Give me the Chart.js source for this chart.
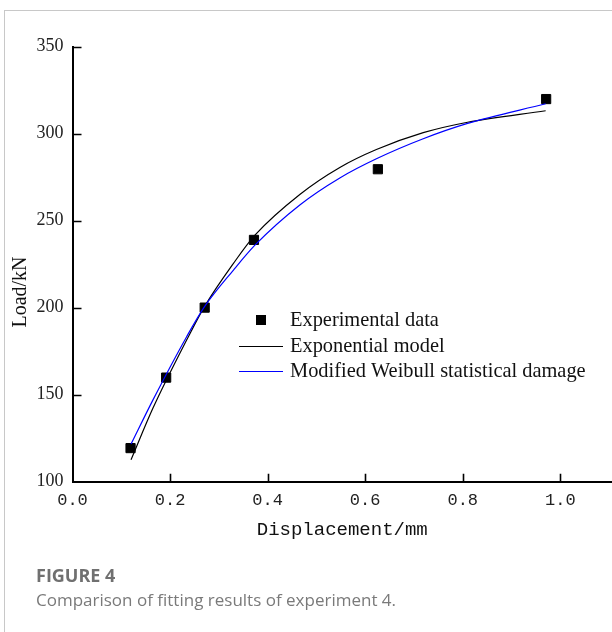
<!DOCTYPE html>
<html>
<head>
<meta charset="utf-8">
<script src="https://cdn.jsdelivr.net/npm/chart.js@4/dist/chart.umd.min.js"></script>
<style>
  html, body { margin: 0; padding: 0; background: #fff; }
  #frame { position: absolute; left: 4px; top: 10px; width: 620px; height: 640px;
           border-top: 1px solid #c8c8c8; border-left: 1px solid #c8c8c8; }
  #wrap { position: absolute; left: 0; top: 0; width: 612px; height: 632px; }
  .fig { position: absolute; left: 36px; font-family: "Open Sans", sans-serif; color: #707070; white-space: nowrap; }
  #figNo { top: 566px; font-size: 18px; font-weight: bold; line-height: 18px; }
  #figCap { top: 591px; font-size: 17px; line-height: 17px; color: #7a7a7a; }
</style>
</head>
<body>
<div id="frame"></div>
<div id="wrap"><canvas id="chart"></canvas></div>
<div class="fig" id="figNo">FIGURE 4</div>
<div class="fig" id="figCap">Comparison of fitting results of experiment 4.</div>
<script>
// experimental points (displacement mm, load kN)
const expDisp = [0.119, 0.192, 0.271, 0.372, 0.626, 0.971];
const expLoad = [119.3, 159.8, 200.0, 238.9, 279.5, 319.8];

// curves
const curveDisp = [0.12, 0.165, 0.234, 0.27, 0.33, 0.374, 0.466, 0.548, 0.623, 0.719, 0.81, 0.97];
const expoLoad  = [112.6, 142.3, 181.4, 200.3, 225.4, 241.6, 265.0, 280.5, 290.8, 300.5, 306.5, 313.1];
const weibLoad  = [121.6, 147.0, 183.3, 200.3, 221.6, 235.9, 259.0, 274.5, 285.5, 297.0, 305.8, 317.1];

const xTicks = [0, 0.2, 0.4, 0.6, 0.8, 1.0];
const yTicks = [100, 150, 200, 250, 300, 350];

const labels = ['Experimental data', 'Exponential model', 'Modified Weibull statistical damage'];

const toXY = (xs, ys) => xs.map((x, i) => ({ x, y: ys[i] }));

const inwardTicks = {
  id: 'inwardTicks',
  afterDraw(chart) {
    const { ctx, chartArea: a, scales: { x, y } } = chart;
    ctx.save();
    ctx.strokeStyle = '#000';
    ctx.lineWidth = 1.6;
    ctx.beginPath();
    xTicks.forEach(v => {
      if (v === 0) return;
      const px = Math.round(x.getPixelForValue(v)) + 0.5;
      ctx.moveTo(px, a.bottom); ctx.lineTo(px, a.bottom - 8);
    });
    yTicks.forEach(v => {
      if (v === 100) return;
      const py = Math.round(y.getPixelForValue(v)) + 0.5;
      ctx.moveTo(a.left, py); ctx.lineTo(a.left + 9, py);
    });
    ctx.stroke();

    // y axis title
    ctx.fillStyle = '#111';
    ctx.font = '20px "Liberation Serif", serif';
    ctx.textAlign = 'center';
    ctx.textBaseline = 'middle';
    ctx.translate(21, 292);
    ctx.rotate(-Math.PI / 2);
    ctx.fillText('Load/kN', 0, 0);
    ctx.restore();
  }
};

const boxLegend = {
  id: 'boxLegend',
  afterDatasetsDraw(chart) {
    const ctx = chart.ctx;
    const x0 = 239, x1 = 283, tx = 290;
    const rows = [320, 346, 371];
    ctx.save();
    ctx.font = '20.4px "Liberation Serif", serif';
    ctx.textBaseline = 'middle';
    ctx.textAlign = 'left';
    chart.data.datasets.forEach((ds, i) => {
      const yy = rows[i];
      if (i === 0) {
        ctx.fillStyle = '#000';
        ctx.fillRect((x0 + x1) / 2 - 5, yy - 5, 10, 10);
      } else {
        ctx.strokeStyle = ds.borderColor;
        ctx.lineWidth = ds.borderWidth;
        ctx.beginPath();
        ctx.moveTo(x0, yy + 0.5); ctx.lineTo(x1, yy + 0.5);
        ctx.stroke();
      }
      ctx.fillStyle = '#111';
      ctx.fillText(ds.label, tx, yy + 1);
    });
    ctx.restore();
  }
};

new Chart(document.getElementById('chart').getContext('2d'), {
  type: 'scatter',
  data: {
    datasets: [{
      label: labels[0],
      data: toXY(expDisp, expLoad),
      pointStyle: 'rect',
      pointRadius: 6.5,
      pointBackgroundColor: '#000',
      pointBorderColor: '#000',
      pointBorderWidth: 1,
      order: 3
    }, {
      label: labels[1],
      data: toXY(curveDisp, expoLoad),
      showLine: true,
      borderColor: '#000',
      borderWidth: 1.2,
      pointRadius: 0,
      cubicInterpolationMode: 'monotone',
      order: 2
    }, {
      label: labels[2],
      data: toXY(curveDisp, weibLoad),
      showLine: true,
      borderColor: '#0000ff',
      borderWidth: 1.2,
      pointRadius: 0,
      cubicInterpolationMode: 'monotone',
      order: 1
    }]
  },
  options: {
    responsive: true,
    maintainAspectRatio: false,
    animation: false,
    layout: { autoPadding: false, padding: { top: 46.5, right: 0, bottom: 90.3, left: 0 } },
    plugins: { legend: { display: false }, tooltip: { enabled: false } },
    scales: {
      x: {
        type: 'linear', min: 0, max: 1.106,
        afterBuildTicks: s => { s.ticks = xTicks.map(v => ({ value: v })); },
        afterFit: s => { s.height = 60; },
        grid: { display: true, drawOnChartArea: false, drawTicks: false },
        border: { display: true, color: '#000', width: 2 },
        ticks: {
          padding: 9,
          color: '#222',
          font: { family: 'Liberation Mono', size: 17 },
          callback: v => v.toFixed(1)
        },
        title: {
          display: true, text: 'Displacement/mm', color: '#111',
          font: { family: 'Liberation Mono', size: 19 },
          padding: { top: 0, bottom: 0 }
        }
      },
      y: {
        type: 'linear', min: 100, max: 350,
        afterBuildTicks: s => { s.ticks = yTicks.map(v => ({ value: v })); },
        afterFit: s => { s.width = 72.5; },
        grid: { display: true, drawOnChartArea: false, drawTicks: false },
        border: { display: true, color: '#000', width: 2 },
        ticks: {
          padding: 9,
          color: '#222',
          font: { family: 'Liberation Serif', size: 18 }
        }
      }
    }
  },
  plugins: [inwardTicks, boxLegend]
});
</script>
</body>
</html>
